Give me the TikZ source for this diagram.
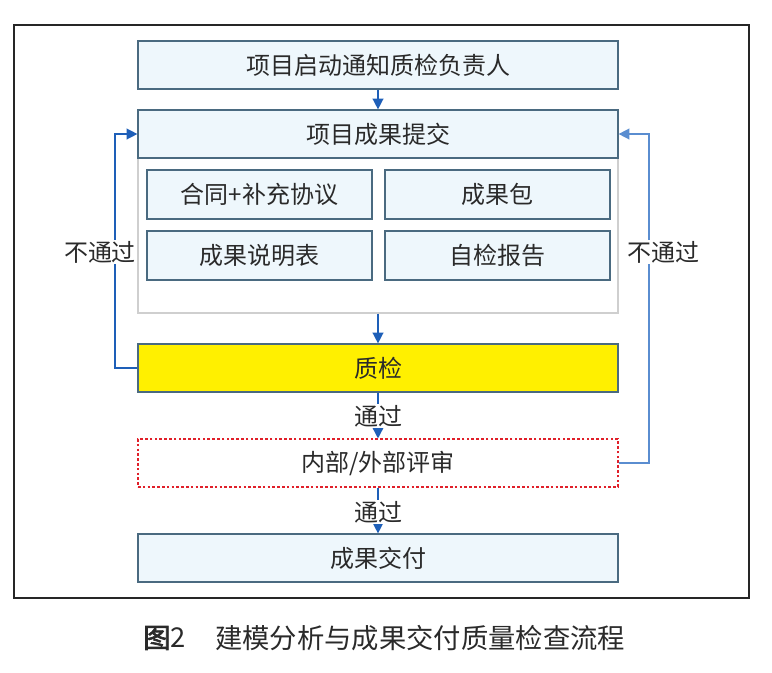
\documentclass[tikz,border=0pt]{standalone}
\usepackage{fontspec}
\setmainfont{Noto Sans CJK SC}
\newfontfamily\cjk{Noto Sans CJK SC}
\newfontfamily\cjkb[FakeBold=2.5]{Noto Sans CJK SC}
\usetikzlibrary{arrows.meta}
\definecolor{boxfill}{HTML}{EEF7FC}
\definecolor{boxline}{HTML}{4A6A80}
\definecolor{contline}{HTML}{CFCFCF}
\definecolor{ylw}{HTML}{FFF000}
\definecolor{redd}{HTML}{E0202A}
\definecolor{arrblue}{HTML}{1E5FB8}
\definecolor{arrblue2}{HTML}{5A8DD0}
\definecolor{txt}{HTML}{2A2A2A}
\tikzset{
  x=0.75pt, y=-0.75pt,
  box/.style={draw=boxline, fill=boxfill, line width=0.9pt, minimum width=360pt, minimum height=36pt, inner sep=0pt, text=txt, font=\cjk\fontsize{18}{20}\selectfont},
  subbox/.style={box, minimum width=168.75pt, minimum height=36.75pt},
  flow/.style={draw=arrblue, line width=1.1pt, -{Triangle[length=8pt,width=8pt]}},
  lbl/.style={fill=white, inner sep=1pt, text=txt, font=\cjk\fontsize{18}{20}\selectfont}
}
\begin{document}
\begin{tikzpicture}
\useasboundingbox (0,0) rectangle (772,672);
\draw[line width=0.8pt, draw=black!85] (14,25) rectangle (749,598);
% nodes
\node[box] (start) at (378,65) {项目启动通知质检负责人};
\node[draw=contline, line width=0.9pt, fill=white, minimum width=360pt, minimum height=152.25pt, inner sep=0pt] (cont) at (378,211.5) {};
\node[box] (submit) at (378,134) {项目成果提交};
\node[subbox] (s1) at (259.5,194.5) {合同+补充协议};
\node[subbox] (s2) at (497.5,194.5) {成果包};
\node[subbox] (s3) at (259.5,255.5) {成果说明表};
\node[subbox] (s4) at (497.5,255.5) {自检报告};
\node[box, fill=ylw] (qc) at (378,368) {质检};
\node[box, draw=redd, fill=white, dash pattern=on 2pt off 1.6pt, line width=0.8pt] (rev) at (378,463) {内部/外部评审};
\node[box] (deliv) at (378,558) {成果交付};
% connectors
\draw[flow] (start) -- (submit);
\draw[flow] (cont) -- (qc);
\draw[flow] (qc) -- (rev);
\draw[flow] (rev) -- (deliv);
\coordinate (lc) at (115,368);
\coordinate (rc) at (649,463);
\draw[flow] (qc.west) -- (lc) |- (submit.west);
\draw[flow, draw=arrblue2] (rev.east) -- (rc) |- (submit.east);
\node[lbl] (pass1) at (378,416) {通过};
\node[lbl] (pass2) at (378,512) {通过};
\node[lbl] (fail1) at (100,252) {不通过};
\node[lbl] (fail2) at (663,252) {不通过};
% caption
\node[anchor=west, inner sep=0pt, text=txt, font=\cjkb\fontsize{20.5}{22}\selectfont] (fig) at (143,638) {图\cjk 2};
\node[anchor=west, inner sep=0pt, text=txt, font=\cjk\fontsize{20.5}{22}\selectfont] (cap) at (215,638) {建模分析与成果交付质量检查流程};
\end{tikzpicture}
\end{document}
